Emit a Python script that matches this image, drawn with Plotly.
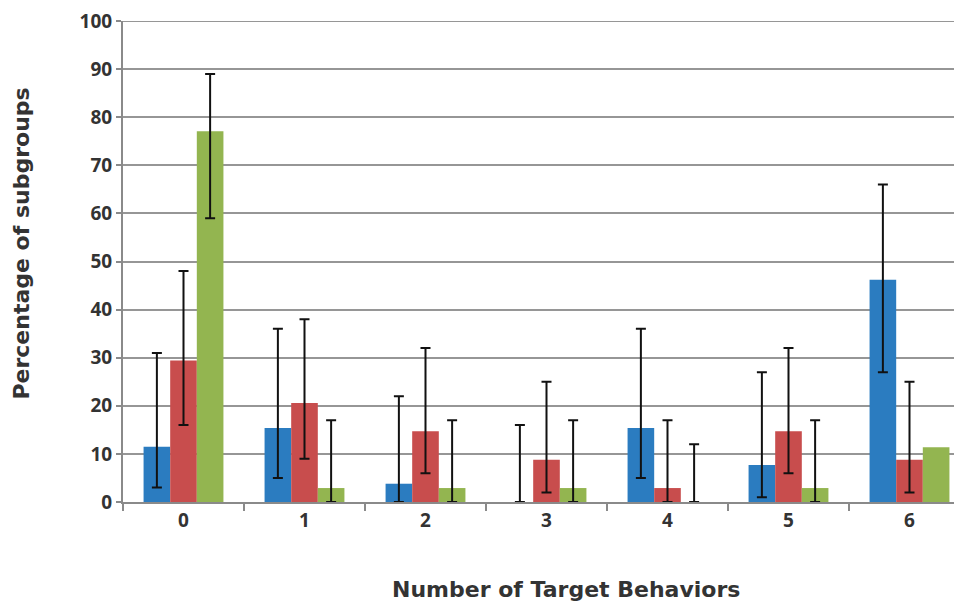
import plotly.graph_objects as go

categories = ["0", "1", "2", "3", "4", "5", "6"]
blue_vals = [11.5, 15.4, 3.8, 0, 15.4, 7.7, 46.2]
red_vals = [29.4, 20.6, 14.7, 8.8, 2.9, 14.7, 8.8]
green_vals = [77.1, 2.9, 2.9, 2.9, 0, 2.9, 11.4]
blue_hi = [31, 36, 22, 16, 36, 27, 66]
blue_lo = [3, 5, 0, 0, 5, 1, 27]
red_hi = [48, 38, 32, 25, 17, 32, 25]
red_lo = [16, 9, 6, 2, 0, 6, 2]
green_hi = [89, 17, 17, 17, 12, 17, None]
green_lo = [59, 0, 0, 0, 0, 0, None]
y_ticks = [0, 10, 20, 30, 40, 50, 60, 70, 80, 90, 100]

colors = ["#2b7cc0", "#c84d4d", "#93b550"]

fig = go.Figure()
for gi, (vals, hi, lo, c) in enumerate([(blue_vals, blue_hi, blue_lo, colors[0]),
                                        (red_vals, red_hi, red_lo, colors[1]),
                                        (green_vals, green_hi, green_lo, colors[2])]):
    with_err = [i for i in range(len(categories)) if hi[i] is not None]
    without_err = [i for i in range(len(categories)) if hi[i] is None]
    fig.add_trace(go.Bar(
        x=[categories[i] for i in with_err], y=[vals[i] for i in with_err],
        offsetgroup=str(gi),
        marker=dict(color=c, line=dict(width=0)),
        error_y=dict(type="data", symmetric=False,
                     array=[hi[i] - vals[i] for i in with_err],
                     arrayminus=[vals[i] - lo[i] for i in with_err],
                     color="#111111", thickness=2, width=5),
        showlegend=False,
    ))
    if without_err:
        fig.add_trace(go.Bar(
            x=[categories[i] for i in without_err], y=[vals[i] for i in without_err],
            offsetgroup=str(gi),
            marker=dict(color=c, line=dict(width=0)),
            showlegend=False,
        ))

# page has an 8px body margin; plot area in page coords: x 123..970, y 18..502
L, R, T, B = 123, 970, 18, 502
GRID = "#969696"
fig.update_layout(
    width=962, height=605,
    margin=dict(l=L - 8, r=0, t=T - 8, b=605 + 8 - B),
    plot_bgcolor="white", paper_bgcolor="white",
    barmode="group", bargap=0.34, bargroupgap=0,
    font=dict(family="Open Sans", color="#333333"),
    xaxis=dict(
        type="category", range=[-0.5, 6.5], categoryorder="array", categoryarray=categories,
        showline=True, linecolor="#8a8a8a", linewidth=2,
        ticks="outside", tickson="boundaries", ticklen=7, tickcolor="#8a8a8a", tickwidth=2,
        tickfont=dict(family="Open Sans", size=19, color="#333333", weight="bold"),
        showgrid=False,
    ),
    yaxis=dict(
        range=[0, y_ticks[-1]], tickvals=y_ticks,
        showline=True, linecolor="#8a8a8a", linewidth=2,
        ticks="outside", ticklen=5, tickcolor="#8a8a8a", tickwidth=2,
        showgrid=True, gridcolor=GRID, gridwidth=2,
        tickfont=dict(family="Open Sans", size=19, color="#333333", weight="bold"),
        ticklabeloverflow="allow",
        zeroline=False,
    ),
    shapes=[
        # top gridline (plotly omits the gridline lying on the range edge)
        dict(type="line", xref="paper", yref="y", x0=0, x1=1,
             y0=y_ticks[-1], y1=y_ticks[-1], line=dict(color=GRID, width=2), layer="below"),
    ],
    annotations=[
        dict(text="<b>Number of Target Behaviors</b>", xref="paper", yref="paper",
             x=(566 - L) / (R - L), y=-(590 - B) / (B - T), xanchor="center", yanchor="middle",
             showarrow=False, font=dict(family="DejaVu Sans", size=22, color="#333333")),
        dict(text="<b>Percentage of subgroups</b>", xref="paper", yref="paper",
             x=-(L - 22) / (R - L), y=(B - 242) / (B - T), textangle=-90,
             xanchor="center", yanchor="middle",
             showarrow=False, font=dict(family="DejaVu Sans", size=22, color="#333333")),
    ],
)

fig.write_html("out.html")
